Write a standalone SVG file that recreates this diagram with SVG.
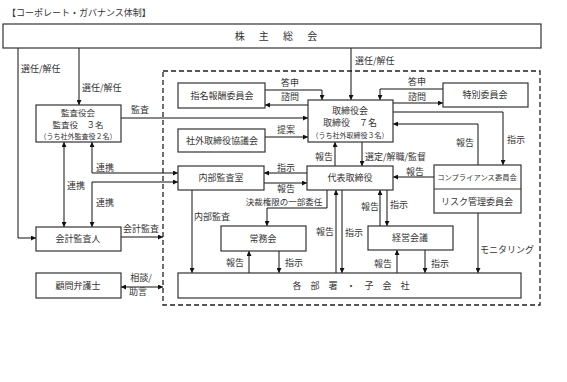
<svg xmlns="http://www.w3.org/2000/svg" width="567" height="382" viewBox="0 0 567 382">
<defs>
<marker id="a" viewBox="0 0 10 10" refX="10" refY="5" markerWidth="5" markerHeight="5" markerUnits="userSpaceOnUse" orient="auto-start-reverse"><path d="M0,0 L10,5 L0,10z" fill="#111"/></marker>
<style>
text{font-family:"Noto Sans CJK JP","Noto Sans",sans-serif;fill:#333;font-size:9px}
.b{fill:#fff;stroke:#333;stroke-width:1.2}
.c{fill:none;stroke:#111;stroke-width:1}
.e{marker-end:url(#a)}
.d{marker-start:url(#a);marker-end:url(#a)}
.m{text-anchor:middle}
.s{font-size:7px}
.t{font-size:8.5px}
</style>
</defs>
<rect width="567" height="382" fill="#fff"/>
<text x="7" y="16">【コーポレート・ガバナンス体制】</text>
<rect x="163" y="71" width="377" height="234" fill="none" stroke="#222" stroke-width="1.3" stroke-dasharray="5,3"/>
<g id="connectors">
<path class="c e" d="M18,48 V238 H36"/>
<path class="c e" d="M79,48 V105"/>
<path class="c e" d="M351,48 V100"/>
<path class="c e" d="M121,118 H308"/>
<path class="c e" d="M265,90 H322 V100"/>
<path class="c e" d="M308,105 H265"/>
<path class="c e" d="M265,137 H308"/>
<path class="c e" d="M443,89 H380 V100"/>
<path class="c e" d="M393,103 H443"/>
<path class="c e" d="M393,112 H503 V165"/>
<path class="c e" d="M478,165 V124 H393"/>
<path class="c e" d="M434,177 H393"/>
<path class="c e" d="M478,213 V273"/>
<path class="c e" d="M335,166 V142"/>
<path class="c e" d="M362,142 V166"/>
<path class="c e" d="M307,173 H264"/>
<path class="c e" d="M264,183 H307"/>
<path class="c e" d="M327,190 V208 H267 V226"/>
<path class="c e" d="M192,190 V273"/>
<path class="c e" d="M249,273 V251"/>
<path class="c e" d="M279,251 V273"/>
<path class="c e" d="M336,273 V190"/>
<path class="c e" d="M342,190 V273"/>
<path class="c e" d="M380,226 V190"/>
<path class="c e" d="M387,190 V226"/>
<path class="c e" d="M397,273 V250"/>
<path class="c e" d="M425,250 V273"/>
<path class="c d" d="M64,142 V227"/>
<path class="c d" d="M92,142 V173 H178"/>
<path class="c d" d="M92,227 V182 H178"/>
<path class="c e" d="M121,237 H163"/>
<path class="c d" d="M121,287 H163"/>
<text x="21" y="72">選任/解任</text>
<text x="82" y="91">選任/解任</text>
<text x="355" y="64">選任/解任</text>
<text class="m" x="140" y="113">監査</text>
<text class="m" x="290" y="86">答申</text>
<text class="m" x="290" y="100">諮問</text>
<text class="m" x="286" y="133">提案</text>
<text class="m" x="417" y="85">答申</text>
<text class="m" x="417" y="100">諮問</text>
<text class="m" x="465" y="146">報告</text>
<text class="m" x="516" y="143">指示</text>
<text class="m" x="415" y="175">報告</text>
<text x="480" y="253">モニタリング</text>
<text class="m" x="324" y="160">報告</text>
<text x="365" y="160">選定/解職/監督</text>
<text class="m" x="286" y="171">指示</text>
<text class="m" x="286" y="192">報告</text>
<text class="m t" x="284" y="205">決裁権限の一部委任</text>
<text x="194" y="220">内部監査</text>
<text class="m" x="235" y="266">報告</text>
<text class="m" x="294" y="266">指示</text>
<text class="m" x="325" y="235">報告</text>
<text class="m" x="354" y="236">指示</text>
<text class="m" x="370" y="210">報告</text>
<text class="m" x="399" y="208">指示</text>
<text class="m" x="383" y="267">報告</text>
<text class="m" x="440" y="267">指示</text>
<text class="m" x="76" y="189">連携</text>
<text class="m" x="105" y="171">連携</text>
<text class="m" x="105" y="206">連携</text>
<text class="m" x="141" y="232">会計監査</text>
<text class="m" x="141" y="281">相談/</text>
<text class="m" x="138" y="295">助言</text>
</g>
<g id="shareholders"><rect class="b" x="3" y="24" width="538" height="24"/><text class="m" x="276" y="40" style="font-size:10px;word-spacing:12px">株 主 総 会</text></g>
<g id="kansayakukai"><rect class="b" x="36" y="105" width="85" height="37"/><text class="m t" x="78" y="116">監査役会</text><text class="m t" x="78" y="128">監査役　３名</text><text class="m s" x="78" y="139">（うち社外監査役２名）</text></g>
<g id="torishimariyakukai"><rect class="b" x="308" y="100" width="85" height="42"/><text class="m" x="350" y="114">取締役会</text><text class="m" x="350" y="126">取締役　７名</text><text class="m s" x="350" y="138">（うち社外取締役３名）</text></g>
<g id="shimei"><rect class="b" x="178" y="83" width="87" height="25"/><text class="m" x="222" y="99">指名報酬委員会</text></g>
<g id="shagai"><rect class="b" x="178" y="129" width="87" height="23"/><text class="m" x="222" y="144">社外取締役協議会</text></g>
<g id="tokubetsu"><rect class="b" x="443" y="83" width="85" height="24"/><text class="m" x="485" y="98">特別委員会</text></g>
<g id="naibu"><rect class="b" x="178" y="166" width="86" height="24"/><text class="m" x="221" y="181">内部監査室</text></g>
<g id="daihyo"><rect class="b" x="307" y="166" width="86" height="24"/><text class="m" x="350" y="181">代表取締役</text></g>
<g id="compliance"><rect class="b" x="434" y="165" width="87" height="48"/><line x1="434" y1="189" x2="521" y2="189" stroke="#333" stroke-width="1"/><text class="m" x="477" y="180" style="font-size:7.3px">コンプライアンス委員会</text><text class="m" x="477" y="205">リスク管理委員会</text></g>
<g id="jomukai"><rect class="b" x="221" y="226" width="85" height="25"/><text class="m" x="263" y="242">常務会</text></g>
<g id="keiei"><rect class="b" x="368" y="226" width="85" height="24"/><text class="m" x="410" y="241">経営会議</text></g>
<g id="kakubusho"><rect class="b" x="178" y="273" width="343" height="25"/><text class="m" x="351" y="289" style="word-spacing:7px">各 部 署 ・ 子 会 社</text></g>
<g id="kaikei"><rect class="b" x="36" y="227" width="85" height="24"/><text class="m" x="78" y="242">会計監査人</text></g>
<g id="komon"><rect class="b" x="36" y="273" width="85" height="25"/><text class="m" x="78" y="289">顧問弁護士</text></g>
</svg>
